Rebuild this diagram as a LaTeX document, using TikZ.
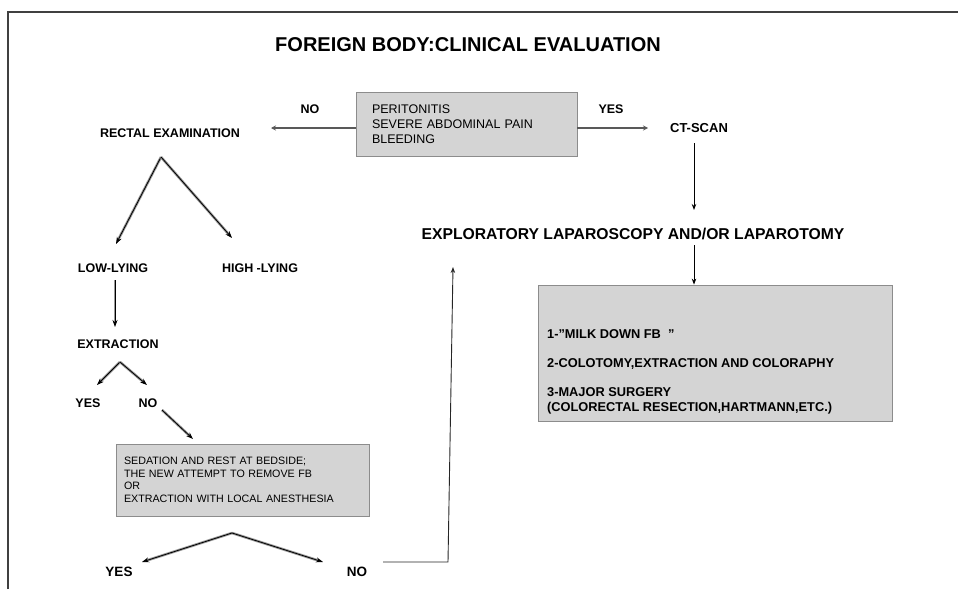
\documentclass[tikz,border=0pt]{standalone}
\usepackage{fontspec}
\setmainfont{Liberation Sans}
\usetikzlibrary{arrows.meta}
\begin{document}
\begin{tikzpicture}[x=1pt,y=-1pt,
  lbl/.style={font=\fontsize{12.5}{15}\selectfont\bfseries, inner sep=0pt},
  biglbl/.style={font=\fontsize{13.5}{16}\selectfont\bfseries, inner sep=0pt},
  graybox/.style={draw=black!45, fill=black!17, line width=0.8pt},
  thinarr/.style={draw=black, line width=0.9pt, -{Stealth[length=6pt,width=4.5pt]}},
  dblarr/.style={draw=black, line width=0.8pt, -{Stealth[length=7pt,width=5pt]},
     preaction={draw=black!40, line width=2.6pt, -, shorten >=5pt}},
  boxarr/.style={draw=black!65, line width=1.8pt, -{Stealth[length=5pt,width=5pt]}},
  frame/.style={draw=black!75, line width=1.5pt},
  upline/.style={draw=black!85, line width=0.9pt, -{Stealth[length=6pt,width=4.5pt]}},
]
\useasboundingbox (0,0) rectangle (958,589);
% frame
\draw[frame] (8,589) -- (8,12) -- (958,12);

% title
\node[font=\fontsize{20}{24}\selectfont\bfseries, inner sep=0pt] (title) at (468,45) {FOREIGN BODY:CLINICAL EVALUATION};

% central box
\node[graybox, minimum width=221pt, minimum height=64pt, text width=189pt, inner xsep=16pt,
      align=left, font=\fontsize{12.5}{15}\selectfont] (cbox) at (466.5,124)
      {PERITONITIS\\SEVERE ABDOMINAL PAIN\\BLEEDING};
\node[lbl] (no1) at (310,109) {NO};
\node[lbl] (yes1) at (611,109) {YES};
\node[lbl] (rect) at (170,133) {RECTAL EXAMINATION};
\node[lbl, font=\fontsize{13}{15}\selectfont\bfseries] (ct) at (699,128) {CT-SCAN};
\coordinate (noend) at (271,128);
\coordinate (yesend) at (648,128);
\draw[boxarr] ([yshift=-4pt]cbox.west) -- (noend);
\draw[boxarr] ([yshift=-4pt]cbox.east) -- (yesend);

% rectal fork
\coordinate (rfork) at (161,157);
\coordinate (lowend) at (116,244);
\coordinate (highend) at (232,238);
\draw[dblarr] (rfork) -- (lowend);
\draw[dblarr] (rfork) -- (highend);
\node[lbl] (low) at (113,268) {LOW-LYING};
\node[lbl] (high) at (260,268) {HIGH -LYING};

% extraction
\node[lbl] (extr) at (118,344) {EXTRACTION};
\coordinate (la) at (115,280);
\coordinate (lb) at (115,327);
\draw[dblarr] (la) -- (lb);
\coordinate (efork) at (120,362);
\coordinate (eyes) at (97,385);
\coordinate (eno) at (147,385);
\draw[dblarr] (efork) -- (eyes);
\draw[dblarr] (efork) -- (eno);
\node[lbl] (yes2) at (88,403) {YES};
\node[lbl] (no2) at (148,403) {NO};
\coordinate (na) at (162,410);
\coordinate (nb) at (193,439);
\draw[dblarr] (na) -- (nb);

% sedation box
\node[graybox, minimum width=253pt, minimum height=72pt, text width=237pt, inner xsep=8pt,
      align=left, font=\fontsize{10.7}{12.5}\selectfont] (sbox) at (242.5,480)
      {SEDATION AND REST AT BEDSIDE;\\THE NEW ATTEMPT TO REMOVE FB\\OR\\EXTRACTION WITH LOCAL ANESTHESIA};
\coordinate (sfork) at (232,533);
\coordinate (syes) at (142,562);
\coordinate (sno) at (323,562);
\draw[dblarr] (sfork) -- (syes);
\draw[dblarr] (sfork) -- (sno);
\node[biglbl] (yes3) at (119,572) {YES};
\node[biglbl] (no3) at (357,572) {NO};

% exploratory
\node[font=\fontsize{15.7}{18}\selectfont\bfseries, inner sep=0pt] (expl) at (633,234) {EXPLORATORY LAPAROSCOPY AND/OR LAPAROTOMY};
\coordinate (nl) at (383,562);
\coordinate (nc) at (448,562);
\coordinate (nt) at (453,267);
\draw[upline] (nl) -- (nc) -- (nt);
\coordinate (cta) at (694,143);
\coordinate (ctb) at (694,210);
\draw[thinarr] (cta) -- (ctb);

% operation box
\node[graybox, minimum width=354pt, minimum height=136pt] (opbox) at (715,353) {};
\node[anchor=north west, inner sep=0pt, align=left, font=\fontsize{12.8}{15}\selectfont\bfseries] (optext) at (547,329.5)
  {1-”MILK DOWN FB\ \ ”\\[14pt]2-COLOTOMY,EXTRACTION AND COLORAPHY\\[14pt]3-MAJOR SURGERY\\(COLORECTAL RESECTION,HARTMANN,ETC.)};
\coordinate (expa) at (694,245);
\draw[thinarr] (expa) -- (expa |- opbox.north);
\end{tikzpicture}
\end{document}
